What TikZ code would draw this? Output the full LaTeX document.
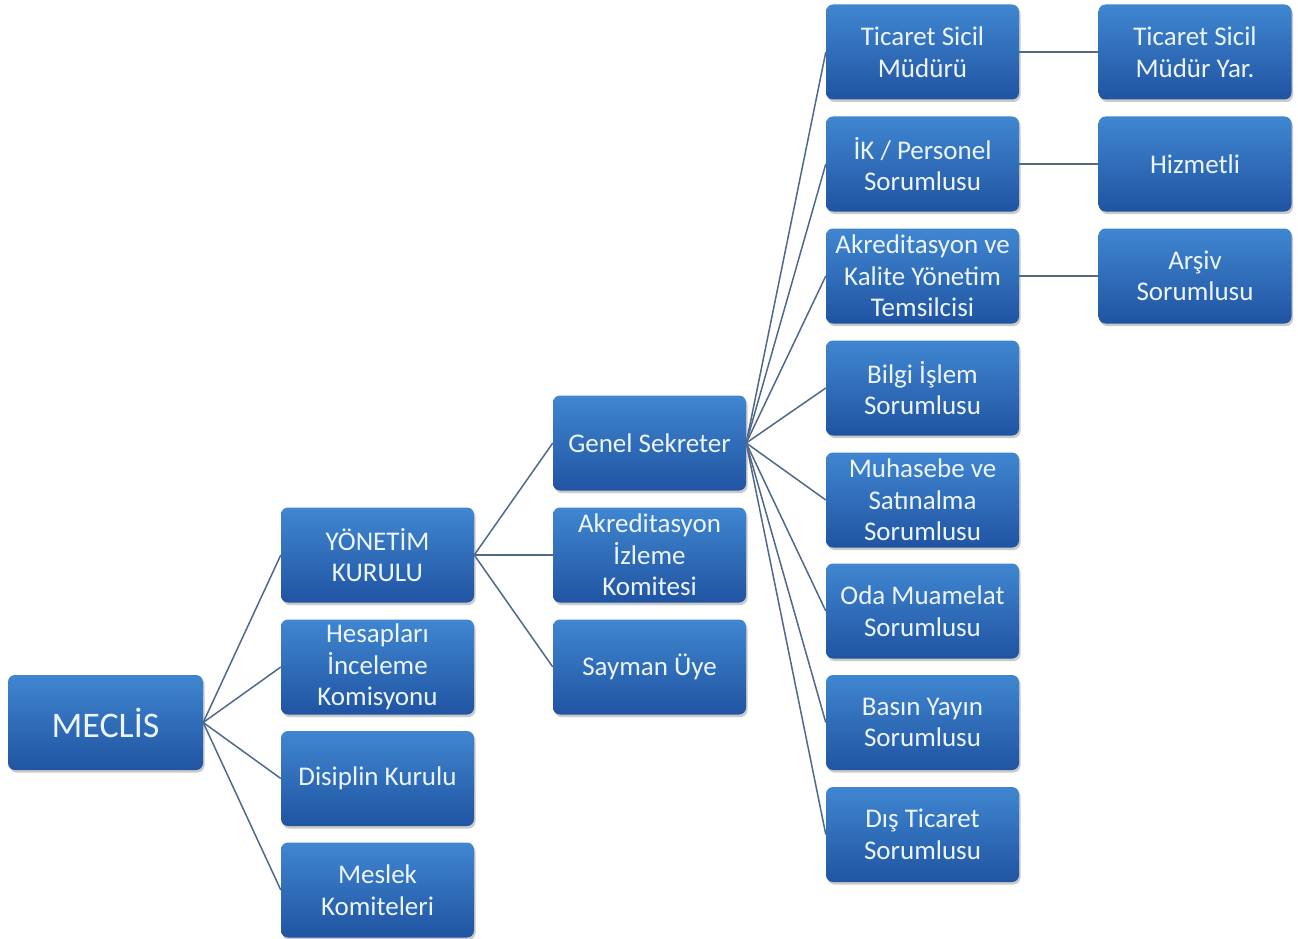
\documentclass[tikz,border=0pt]{standalone}
\usepackage{fontspec}
\setmainfont{Carlito}
\usetikzlibrary{shadows}
\definecolor{boxtop}{RGB}{64,134,208}
\definecolor{boxbot}{RGB}{32,84,162}
\definecolor{linec}{RGB}{80,104,138}
\definecolor{txt}{RGB}{236,245,255}
\begin{document}
\begin{tikzpicture}[x=1pt,y=-1pt,
  box/.style={rounded corners=7pt, minimum width=193pt, minimum height=95pt,
    top color=boxtop, bottom color=boxbot, draw=none,
    drop shadow={shadow xshift=1.5pt, shadow yshift=-2.5pt, opacity=0.35, fill=black!60},
    text=txt, align=center, inner sep=1pt,
    font=\fontsize{27}{31.5}\selectfont},
  conn/.style={draw=linec, line width=1.5pt}]
\useasboundingbox (0,0) rectangle (1298,939);
% column 1
\node[box, font=\fontsize{36}{40}\selectfont, minimum width=195pt] (mec) at (105.5,722.5) {MECLİS};
% column 2
\node[box] (yk) at (377.5,555) {YÖNETİM\\KURULU};
\node[box] (hik) at (377.5,667) {Hesapları\\İnceleme\\Komisyonu};
\node[box] (dk) at (377.5,778.5) {Disiplin Kurulu};
\node[box] (mk) at (377.5,890) {Meslek\\Komiteleri};
% column 3
\node[box] (gs) at (649.5,443) {Genel Sekreter};
\node[box] (aik) at (649.5,555) {Akreditasyon\\İzleme\\Komitesi};
\node[box] (su) at (649.5,667) {Sayman Üye};
% column 4
\node[box] (tsm) at (922.5,52) {Ticaret Sicil\\Müdürü};
\node[box] (ik) at (922.5,164) {İK / Personel\\Sorumlusu};
\node[box] (akt) at (922.5,276) {Akreditasyon ve\\Kalite Yönetim\\Temsilcisi};
\node[box] (bis) at (922.5,388) {Bilgi İşlem\\Sorumlusu};
\node[box] (mss) at (922.5,500) {Muhasebe ve\\Satınalma\\Sorumlusu};
\node[box] (oms) at (922.5,611) {Oda Muamelat\\Sorumlusu};
\node[box] (bys) at (922.5,722.5) {Basın Yayın\\Sorumlusu};
\node[box] (dts) at (922.5,834.5) {Dış Ticaret\\Sorumlusu};
% column 5
\node[box] (tsy) at (1195,52) {Ticaret Sicil\\Müdür Yar.};
\node[box] (hz) at (1195,164) {Hizmetli};
\node[box] (ars) at (1195,276) {Arşiv\\Sorumlusu};
% connectors
\foreach \c in {yk,hik,dk,mk} \draw[conn] (mec.east) -- (\c.west);
\foreach \c in {gs,aik,su} \draw[conn] (yk.east) -- (\c.west);
\foreach \c in {tsm,ik,akt,bis,mss,oms,bys,dts} \draw[conn] (gs.east) -- (\c.west);
\draw[conn] (tsm.east) -- (tsy.west);
\draw[conn] (ik.east) -- (hz.west);
\draw[conn] (akt.east) -- (ars.west);
\end{tikzpicture}
\end{document}
